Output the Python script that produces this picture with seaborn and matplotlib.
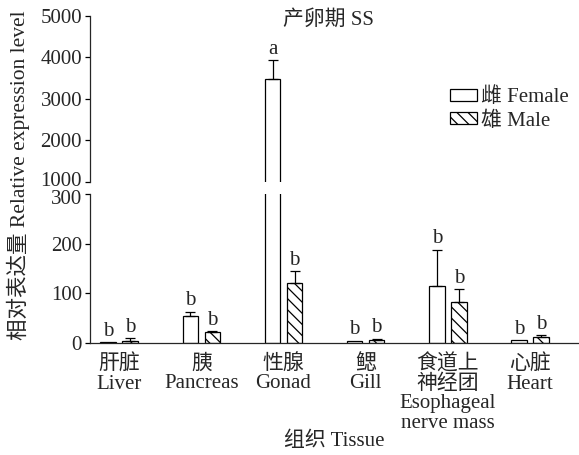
import pandas as pd
import numpy as np
import matplotlib
matplotlib.use("Agg")
import matplotlib.pyplot as plt
import matplotlib.transforms as mtransforms
from matplotlib.patches import Patch
import seaborn as sns

# values
tissues = ["肝脏\nLiver", "胰\nPancreas", "性腺\nGonad", "鳃\nGill",
           "食道上\n神经团\nEsophageal\nnerve mass", "心脏\nHeart"]
female_mean = [1.3, 54, 3490, 4.7, 115, 5.4]
female_err = [0, 9, 440, 0, 73, 0]
male_mean = [3.4, 23, 121, 6, 82, 13]
male_err = [7, 1, 23, 3, 26, 3]
female_letters = ["b", "b", "a", "b", "b", "b"]
male_letters = ["b", "b", "b", "b", "b", "b"]
sexes = ["雌 Female", "雄 Male"]

df = pd.DataFrame({
    "tissue": tissues * 2,
    "value": female_mean + male_mean,
    "sex": [sexes[0]] * 6 + [sexes[1]] * 6,
})

sns.set_style("ticks")
fam = ["Liberation Serif", "Noto Sans CJK SC"]
plt.rcParams["font.family"] = fam
plt.rcParams["font.size"] = 15
plt.rcParams["hatch.linewidth"] = 0.9
plt.rcParams["axes.linewidth"] = 0.9

fig = plt.figure(figsize=(5.79, 4.55), dpi=100)
ax_top = fig.add_axes([0.155, 0.600, 0.843, 0.365])
ax_bot = fig.add_axes([0.155, 0.246, 0.843, 0.328])

means = [female_mean, male_mean]
errs = [female_err, male_err]
letters = [female_letters, male_letters]
bar_sets = {}

for ax in (ax_top, ax_bot):
    sns.barplot(data=df, x="tissue", y="value", hue="sex", errorbar=None,
                width=0.536, gap=0.29, ax=ax, legend=False,
                palette=["white", "white"], edgecolor="black", linewidth=0.9)
    conts = list(ax.containers[:2])
    bar_sets[ax] = conts
    for i, cont in enumerate(conts):
        for j, bar in enumerate(cont.patches):
            bar.set_facecolor("white")
            bar.set_edgecolor("black")
            if i == 1:
                bar.set_hatch("\\\\\\")
            xc = bar.get_x() + bar.get_width() / 2
            if errs[i][j] > 0:
                ax.errorbar(xc, means[i][j], yerr=[[0], [errs[i][j]]],
                            fmt="none", ecolor="black", elinewidth=0.9,
                            capsize=3.3, capthick=0.9)
    ax.set_xlim(-0.36, 5.585)
    ax.set_xlabel("")
    ax.set_ylabel("")
    ax.tick_params(axis="y", direction="out", length=3.5, width=0.9,
                   labelsize=15, pad=2, color="black")
    ax.spines["right"].set_visible(False)
    ax.spines["top"].set_visible(False)

# letters above the error bars
for i, cont in enumerate(bar_sets[ax_bot]):
    for j, bar in enumerate(cont.patches):
        xc = bar.get_x() + bar.get_width() / 2
        top = means[i][j] + errs[i][j]
        target = ax_top if top > 300 else ax_bot
        target.annotate(letters[i][j], (xc, top), xytext=(0, 1),
                        textcoords="offset points", ha="center", va="bottom",
                        fontsize=15)

ax_top.set_ylim(1000, 5000)
ax_top.set_yticks([1000, 2000, 3000, 4000, 5000])
ax_top.spines["bottom"].set_visible(False)
ax_top.set_xticks([])

ax_bot.set_ylim(0, 300)
ax_bot.set_yticks([0, 100, 200, 300])
ax_bot.tick_params(axis="x", length=0, labelsize=15, pad=8)
for lab in ax_bot.get_xticklabels():
    lab.set_linespacing(1.02)
    lab.set_verticalalignment("top")

# nudge the two labels at the axis break apart a little
fig.canvas.draw()
lab_1000 = ax_top.get_yticklabels()[0]
lab_1000.set_transform(lab_1000.get_transform() +
                       mtransforms.ScaledTranslation(0, 2 / 72, fig.dpi_scale_trans))
lab_300 = ax_bot.get_yticklabels()[-1]
lab_300.set_transform(lab_300.get_transform() +
                      mtransforms.ScaledTranslation(0, -2 / 72, fig.dpi_scale_trans))

handles = [Patch(facecolor="white", edgecolor="black", linewidth=0.9),
           Patch(facecolor="white", edgecolor="black", linewidth=0.9, hatch="\\\\\\")]
ax_top.legend(handles, sexes, loc="upper right", bbox_to_anchor=(1.008, 0.645),
              frameon=False, fontsize=15, handlelength=1.3, handleheight=0.5,
              handletextpad=0.2, labelspacing=0.2, borderaxespad=0.2)

fig.text(0.567, 0.956, "产卵期 SS", ha="center", va="center", fontsize=15)
fig.text(0.577, 0.031, "组织 Tissue", ha="center", va="center", fontsize=15)
fig.text(0.032, 0.615, "相对表达量 Relative expression level", ha="center",
         va="center", rotation=90, fontsize=15.5)

fig.savefig("out.png", dpi=100)
